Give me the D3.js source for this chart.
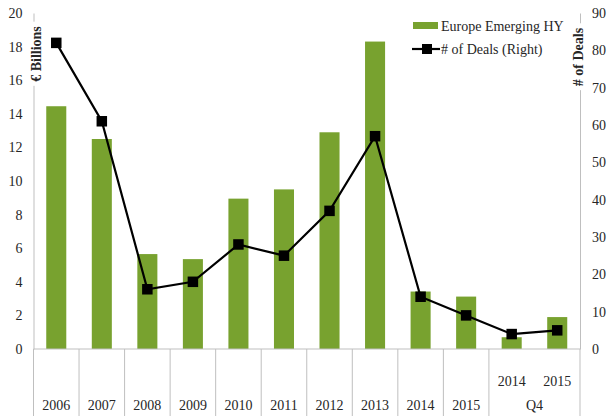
<!DOCTYPE html>
<html>
<head>
<meta charset="utf-8">
<script src="https://cdn.jsdelivr.net/npm/d3@7"></script>
<style>
  html, body { margin: 0; padding: 0; background: #fff; }
  svg { display: block; }
  text { font-family: "Liberation Serif", "DejaVu Serif", serif; fill: #262626; }
</style>
</head>
<body>
<svg id="chart" width="611" height="417"></svg>
<script>
// Category keys and the labels printed under each bar
const categories = ["2006","2007","2008","2009","2010","2011","2012","2013","2014","2015","Q4 2014","Q4 2015"];
const categoryLabels = ["2006","2007","2008","2009","2010","2011","2012","2013","2014","2015","2014","2015"];
// Issuance volume, € billions (left axis)
const volumes = [14.45, 12.5, 5.65, 5.35, 8.95, 9.5, 12.9, 18.3, 3.42, 3.12, 0.7, 1.9];
// Number of deals (right axis)
const deals = [82, 61, 16, 18, 28, 25, 37, 57, 14, 9, 4, 5];
// Axis ticks
const leftTicks = [0, 2, 4, 6, 8, 10, 12, 14, 16, 18, 20];
const rightTicks = [0, 10, 20, 30, 40, 50, 60, 70, 80, 90];

const svg = d3.select("#chart");
const plotLeft = 33.5, plotRight = 580, plotTop = 13, base = 349, axisBottom = 416;
const green = "#78a22f", axisGrey = "#bfbfbf";

const x = d3.scaleBand().domain(categories).range([plotLeft, plotRight])
  .paddingInner(0.56).paddingOuter(0.28);
const yL = d3.scaleLinear().domain([0, 20]).range([base, plotTop]);
const yR = d3.scaleLinear().domain([0, 90]).range([base, plotTop]);

// Bars
svg.append("g").selectAll("rect").data(categories).join("rect")
  .attr("x", d => x(d))
  .attr("width", x.bandwidth())
  .attr("y", (d, i) => yL(volumes[i]))
  .attr("height", (d, i) => base - yL(volumes[i]))
  .attr("fill", green);

// Left axis
const gL = svg.append("g").attr("transform", `translate(${plotLeft},0)`)
  .call(d3.axisLeft(yL).tickValues(leftTicks).tickSize(0).tickPadding(11));
gL.select(".domain").attr("stroke", axisGrey);
gL.selectAll("text").attr("font-size", 14).attr("font-family", "Liberation Serif").attr("fill", "#262626");

// Right axis
const gR = svg.append("g").attr("transform", `translate(${plotRight},0)`)
  .call(d3.axisRight(yR).tickValues(rightTicks).tickSize(0).tickPadding(12));
gR.select(".domain").attr("stroke", axisGrey);
gR.selectAll("text").attr("font-size", 14).attr("font-family", "Liberation Serif").attr("fill", "#262626");

// Category axis: baseline, dividers and two-level labels
const step = x.step();
const catAxis = svg.append("g");
catAxis.append("line").attr("x1", plotLeft).attr("x2", plotRight).attr("y1", base).attr("y2", base)
  .attr("stroke", axisGrey);
const dividerIdx = d3.range(0, 11);
catAxis.selectAll("line.div").data(dividerIdx).join("line").attr("class", "div")
  .attr("x1", i => plotLeft + i * step).attr("x2", i => plotLeft + i * step)
  .attr("y1", base).attr("y2", axisBottom).attr("stroke", axisGrey);
catAxis.append("line").attr("x1", plotRight).attr("x2", plotRight).attr("y1", base).attr("y2", axisBottom)
  .attr("stroke", axisGrey);

catAxis.selectAll("text.cat").data(categories).join("text").attr("class", "cat")
  .attr("x", d => x(d) + x.bandwidth() / 2)
  .attr("y", (d, i) => i < 10 ? 410 : 386)
  .attr("text-anchor", "middle").attr("font-size", 14)
  .text((d, i) => categoryLabels[i]);
catAxis.append("text")
  .attr("x", (x("Q4 2014") + x("Q4 2015") + x.bandwidth()) / 2)
  .attr("y", 410).attr("text-anchor", "middle").attr("font-size", 14).text("Q4");

// Axis titles, sitting over the axis lines
function axisTitle(cx, cy, label) {
  const g = svg.append("g").attr("transform", `translate(${cx},${cy}) rotate(-90)`);
  const t = g.append("text").attr("text-anchor", "middle").attr("dy", "0.35em")
    .attr("font-size", 14).attr("font-weight", "bold").attr("fill", "#000").text(label);
  const bb = t.node().getBBox();
  g.insert("rect", "text").attr("x", bb.x - 4).attr("y", bb.y).attr("width", bb.width + 8)
    .attr("height", bb.height).attr("fill", "#fff");
}
axisTitle(plotLeft + 3, 54, "€ Billions");
axisTitle(plotRight - 2, 57, "# of Deals");

// Deals line with square markers
const cx = (d, i) => x(categories[i]) + x.bandwidth() / 2;
svg.append("path").datum(deals)
  .attr("d", d3.line().x(cx).y(d => yR(d)))
  .attr("fill", "none").attr("stroke", "#000").attr("stroke-width", 2.2);
const ms = 10.5;
svg.append("g").selectAll("rect").data(deals).join("rect")
  .attr("x", (d, i) => cx(d, i) - ms / 2).attr("y", d => yR(d) - ms / 2)
  .attr("width", ms).attr("height", ms).attr("fill", "#000");

// Legend
const lg = svg.append("g");
lg.append("rect").attr("x", 413).attr("y", 22).attr("width", 25).attr("height", 7).attr("fill", green);
lg.append("text").attr("x", 441).attr("y", 30.5).attr("font-size", 14).text("Europe Emerging HY");
lg.append("line").attr("x1", 412).attr("x2", 440).attr("y1", 49).attr("y2", 49)
  .attr("stroke", "#000").attr("stroke-width", 2.2);
lg.append("rect").attr("x", 422).attr("y", 44).attr("width", 10).attr("height", 10).attr("fill", "#000");
lg.append("text").attr("x", 441).attr("y", 54).attr("font-size", 14).text("# of Deals (Right)");
</script>
</body>
</html>
